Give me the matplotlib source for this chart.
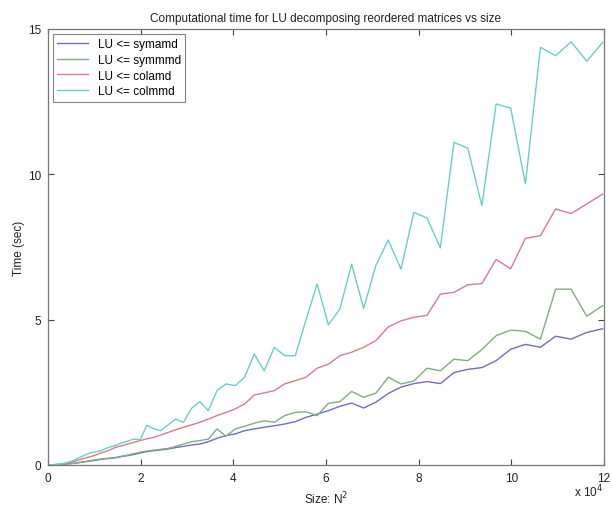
import matplotlib
matplotlib.use("Agg")
import matplotlib.pyplot as plt
import numpy as np

plt.rcParams['font.family'] = ['Liberation Sans', 'DejaVu Sans']

# Matrix dimension N (size plotted is N^2)
N = np.array([1, 6, 11, 16, 21, 26, 31, 36, 41, 46, 51, 56, 61, 66, 71, 76, 81, 86, 91, 96,
              101, 106, 111, 116, 121, 126, 131, 136, 141, 146, 151, 156, 161, 166, 171, 176,
              181, 186, 191, 196, 201, 206, 211, 216, 221, 226, 231, 236, 241, 246, 251, 256,
              261, 266, 271, 276, 281, 286, 291, 296, 301, 306, 311, 316, 321, 326, 331, 336,
              341, 346])
size = N ** 2

symamd = [0.0, 0.0, 0.0, 0.0, 0.0, 0.0, 0.0, 0.01, 0.01, 0.01, 0.02, 0.02, 0.03, 0.04, 0.05,
          0.06, 0.08, 0.10, 0.12, 0.14, 0.16, 0.19, 0.21, 0.23, 0.25, 0.29, 0.32, 0.36, 0.41,
          0.46, 0.49, 0.52, 0.55, 0.60, 0.64, 0.69, 0.72, 0.80, 0.92, 1.01, 1.07, 1.18, 1.24,
          1.30, 1.35, 1.41, 1.49, 1.64, 1.75, 1.87, 2.02, 2.13, 1.96, 2.16, 2.46, 2.68, 2.80,
          2.87, 2.80, 3.18, 3.29, 3.35, 3.59, 3.98, 4.15, 4.05, 4.43, 4.33, 4.56, 4.69]
symmmd = [0.0, 0.0, 0.0, 0.0, 0.0, 0.0, 0.0, 0.01, 0.01, 0.01, 0.02, 0.02, 0.03, 0.04, 0.05,
          0.06, 0.08, 0.10, 0.12, 0.15, 0.18, 0.20, 0.22, 0.24, 0.26, 0.30, 0.34, 0.39, 0.44,
          0.48, 0.51, 0.54, 0.57, 0.64, 0.72, 0.80, 0.84, 0.89, 1.24, 0.99, 1.24, 1.33, 1.44,
          1.52, 1.47, 1.70, 1.81, 1.83, 1.70, 2.12, 2.18, 2.53, 2.33, 2.47, 3.02, 2.79, 2.89,
          3.33, 3.24, 3.64, 3.59, 3.97, 4.45, 4.64, 4.60, 4.33, 6.05, 6.05, 5.12, 5.48]
colamd = [0.0, 0.0, 0.0, 0.0, 0.0, 0.0, 0.01, 0.01, 0.02, 0.02, 0.03, 0.04, 0.05, 0.07, 0.10,
          0.13, 0.17, 0.21, 0.25, 0.29, 0.34, 0.40, 0.46, 0.53, 0.61, 0.66, 0.72, 0.78, 0.84,
          0.90, 0.95, 1.03, 1.12, 1.21, 1.30, 1.38, 1.47, 1.58, 1.70, 1.81, 1.93, 2.10, 2.41,
          2.48, 2.56, 2.79, 2.90, 3.02, 3.33, 3.47, 3.76, 3.88, 4.05, 4.28, 4.75, 4.96, 5.08,
          5.15, 5.88, 5.94, 6.20, 6.24, 7.07, 6.75, 7.80, 7.89, 8.81, 8.65, 8.98, 9.32]
colmmd = [0.0, 0.0, 0.0, 0.0, 0.0, 0.0, 0.01, 0.01, 0.02, 0.03, 0.04, 0.05, 0.07, 0.10, 0.13,
          0.18, 0.24, 0.30, 0.36, 0.42, 0.45, 0.48, 0.56, 0.62, 0.68, 0.76, 0.82, 0.89, 0.87,
          1.36, 1.25, 1.18, 1.38, 1.58, 1.47, 1.95, 2.18, 1.87, 2.56, 2.79, 2.73, 3.02, 3.82,
          3.24, 4.05, 3.76, 3.76, 5.00, 6.23, 4.82, 5.37, 6.91, 5.39, 6.86, 7.74, 6.74, 8.69,
          8.50, 7.47, 11.10, 10.90, 8.92, 12.42, 12.28, 9.67, 14.37, 14.08, 14.56, 13.89, 14.54]

labels = ['LU <= symamd', 'LU <= symmmd', 'LU <= colamd', 'LU <= colmmd']
colors = ['#6f6fc0', '#7fae7f', '#d97c84', '#6ccccc']

xticks = [0, 20000, 40000, 60000, 80000, 100000, 120000]
xticklabels = ['0', '2', '4', '6', '8', '10', '12']
yticks = [0, 5, 10, 15]

fig = plt.figure(figsize=(6.12, 5.06), dpi=100)
ax = fig.add_axes([48/612, 1-466/506, (604-48)/612, (466-30)/506])

for ys, lab, c in zip([symamd, symmmd, colamd, colmmd], labels, colors):
    ax.plot(size, ys, color=c, lw=1.0, label=lab)

ax.set_xlim(0, 120000)
ax.set_ylim(0, 15)
ax.set_xticks(xticks)
ax.set_xticklabels(xticklabels)
ax.set_yticks(yticks)
ax.tick_params(direction='in', top=True, right=True, length=4, labelsize=8.5,
               color='#444444', labelcolor='#222222', pad=5)
for s in ax.spines.values():
    s.set_color('#777777')
    s.set_linewidth(0.9)

ax.set_title('Computational time for LU decomposing reordered matrices vs size',
             fontsize=8.5, color='#222222', pad=6)
ax.set_xlabel('Size: N$^2$', fontsize=8.5, color='#222222', labelpad=4)
ax.set_ylabel('Time (sec)', fontsize=8.5, color='#222222', labelpad=2)
fig.text(603/612, 1-492/506, 'x 10$^4$', ha='right', va='center', fontsize=8.5, color='#222222')

leg = ax.legend(loc='upper left', fontsize=8.5, frameon=True, fancybox=False,
                edgecolor='#666666', borderaxespad=0.4, handlelength=2.6,
                labelspacing=0.3, borderpad=0.4, handletextpad=0.8)
leg.get_frame().set_linewidth(0.8)

fig.savefig('out.png', dpi=100)
